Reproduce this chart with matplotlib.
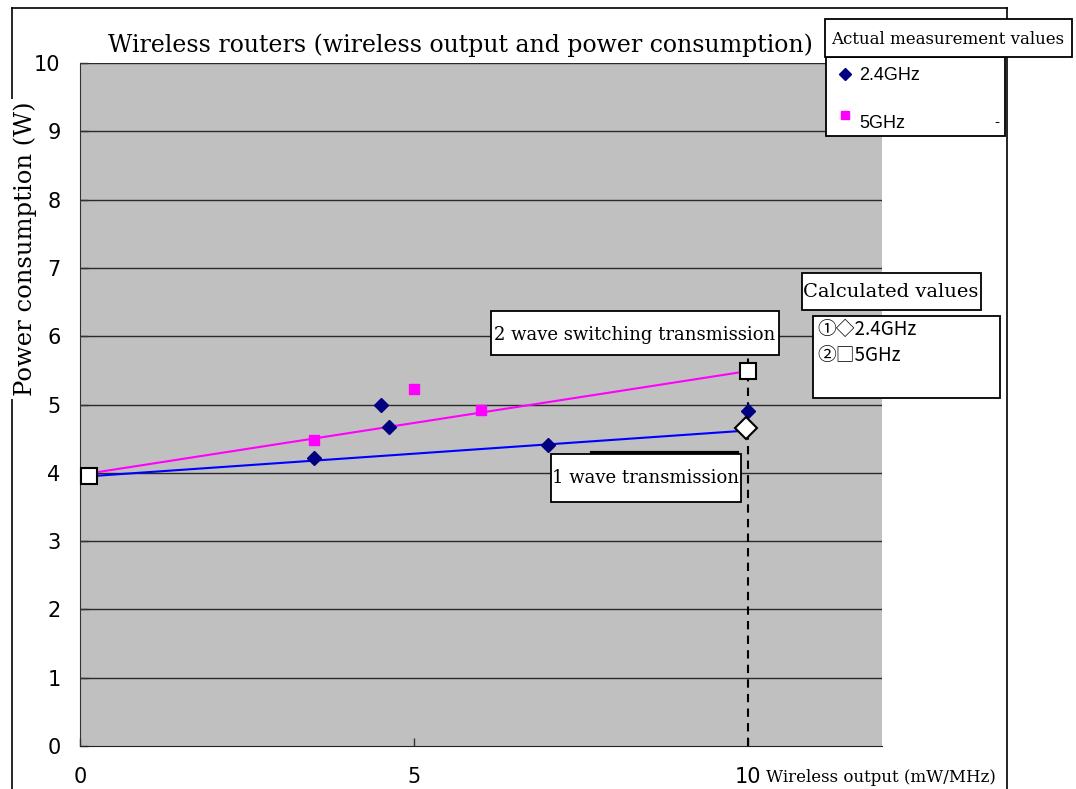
import matplotlib
matplotlib.use("Agg")
import matplotlib.pyplot as plt
from matplotlib.patches import Rectangle
from matplotlib.lines import Line2D

# measured points (2.4GHz / 5GHz)
ghz24_x = [3.5, 4.5, 4.62, 7.0, 10.0]
ghz24_y = [4.21, 5.0, 4.67, 4.41, 4.9]
ghz5_x = [0.0, 3.5, 5.0, 6.0]
ghz5_y = [3.92, 4.48, 5.23, 4.92]

# calculated lines
line1_x = [0.0, 10.0]
line1_y = [3.94, 4.62]   # 1 wave transmission (2.4GHz)
line2_x = [0.0, 10.0]
line2_y = [3.97, 5.49]   # 2 wave switching transmission (5GHz)

# calculated markers
calc_sq_x = [0.13, 10.0]
calc_sq_y = [3.95, 5.49]
calc_dm_x = [9.97]
calc_dm_y = [4.66]

x_ticks = [0, 5, 10]
y_ticks = list(range(0, 11))

W, H = 1076, 789
fig = plt.figure(figsize=(W / 100, H / 100), dpi=100)
SERIF = "DejaVu Serif"
SANS = "Liberation Sans"


def fx(px):
    return px / W


def fy(py):
    return 1 - py / H


def box(x0, y0, x1, y1, lw=1.3):
    r = Rectangle((fx(x0), fy(y1)), fx(x1) - fx(x0), fy(y0) - fy(y1),
                  transform=fig.transFigure, facecolor="white",
                  edgecolor="black", linewidth=lw, zorder=5)
    fig.add_artist(r)


# outer frame
fig.add_artist(Line2D([fx(12), fx(12)], [fy(8), fy(789)], color="black", lw=1.2, transform=fig.transFigure))
fig.add_artist(Line2D([fx(12), fx(1007)], [fy(8), fy(8)], color="black", lw=1.2, transform=fig.transFigure))
fig.add_artist(Line2D([fx(1007), fx(1007)], [fy(8), fy(789)], color="black", lw=1.2, transform=fig.transFigure))

ax = fig.add_axes([fx(80), fy(746), fx(882) - fx(80), fy(63) - fy(746)])
ax.set_facecolor("#C0C0C0")
ax.set_xlim(0, 12)
ax.set_ylim(0, 10)
for v in y_ticks[1:]:
    ax.axhline(v, color="#2a2a2a", lw=1.0, zorder=1)
for s in ax.spines.values():
    s.set_visible(False)
ax.spines["left"].set_visible(True)
ax.spines["bottom"].set_visible(True)
ax.spines["left"].set_color("#333333")
ax.spines["bottom"].set_color("#222222")

ax.set_xticks(x_ticks)
ax.set_yticks(y_ticks)
ax.tick_params(direction="in", length=6, width=1, color="#333333",
               labelsize=15)
ax.tick_params(axis="y", pad=14)
ax.tick_params(axis="x", pad=15)

# dashed guide at 10 mW/MHz
ax.plot([10, 10], [0, 5.72], color="black", lw=1.5, ls=(0, (4, 3)),
        zorder=3)

ax.plot(line2_x, line2_y, color="#FF00FF", lw=1.5, zorder=3)
ax.plot(line1_x, line1_y, color="#0000FF", lw=1.5, zorder=3)

ax.plot(ghz24_x, ghz24_y, ls="none", marker="D", ms=7, color="#000080", zorder=4)
ax.plot(ghz5_x, ghz5_y, ls="none", marker="s", ms=7, color="#FF00FF", zorder=4)

ax.plot(calc_sq_x, calc_sq_y, ls="none", marker="s", ms=11, mfc="white",
        mec="black", mew=1.5, zorder=6, clip_on=False)
ax.plot(calc_dm_x, calc_dm_y, ls="none", marker="D", ms=11, mfc="white",
        mec="black", mew=1.5, zorder=6, clip_on=False)

# title and axis labels
fig.text(fx(460), fy(45), "Wireless routers (wireless output and power consumption)",
         family=SERIF, fontsize=17, ha="center", va="center")
fig.text(fx(25), fy(249), "Power consumption (W)", family=SERIF, fontsize=17.5,
         rotation=90, ha="center", va="center",
         bbox=dict(facecolor="white", edgecolor="none", pad=2), zorder=6)
fig.text(fx(766), fy(778), "Wireless output (mW/MHz)", family=SERIF,
         fontsize=12, ha="left", va="center")

# labels on the lines
box(491, 311, 779, 355)
fig.text(fx(635), fy(335), "2 wave switching transmission", family=SERIF,
         fontsize=13, ha="center", va="center", zorder=7)
fig.add_artist(Line2D([fx(592), fx(737)], [fy(453), fy(453)], color="black",
                      lw=3, transform=fig.transFigure, zorder=4))
box(551, 454, 741, 502)
fig.text(fx(646), fy(478), "1 wave transmission", family=SERIF,
         fontsize=13, ha="center", va="center", zorder=7)

# legend: measured values
box(826, 57, 1005, 136)
box(825, 19, 1072, 57)
fig.text(fx(948), fy(40), "Actual measurement values", family=SERIF,
         fontsize=12, ha="center", va="center", zorder=7)
fig.add_artist(Line2D([fx(845)], [fy(74)], marker="D", ms=6, color="#000080",
                      ls="none", transform=fig.transFigure, zorder=7))
fig.text(fx(859), fy(75), "2.4GHz", family=SANS, fontsize=13,
         ha="left", va="center", zorder=7)
fig.add_artist(Line2D([fx(845)], [fy(115)], marker="s", ms=6, color="#FF00FF",
                      ls="none", transform=fig.transFigure, zorder=7))
fig.text(fx(859), fy(123), "5GHz", family=SANS, fontsize=13,
         ha="left", va="center", zorder=7)
fig.text(fx(997), fy(122), "-", family=SANS, fontsize=11,
         ha="center", va="center", zorder=7)

# legend: calculated values
box(802, 273, 981, 310)
fig.text(fx(891), fy(292), "Calculated values", family=SERIF,
         fontsize=14, ha="center", va="center", zorder=7)
box(813, 316, 1000, 398)
fig.text(fx(817), fy(329), "①◇2.4GHz", family=["Noto Sans CJK JP", "DejaVu Sans"],
         fontsize=13.5, ha="left", va="center", zorder=7)
fig.text(fx(817), fy(355), "②□5GHz", family=["Noto Sans CJK JP", "DejaVu Sans"],
         fontsize=13.5, ha="left", va="center", zorder=7)

fig.savefig("out.png", dpi=100)
